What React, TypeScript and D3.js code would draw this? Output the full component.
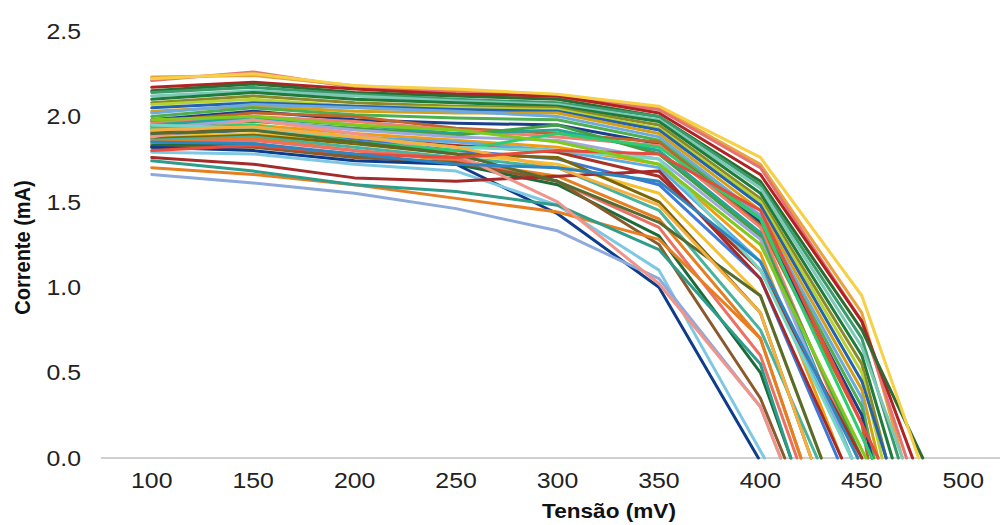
import React from "react";
import * as d3 from "d3";

// Voltage sample points (mV)
const voltages = [100, 150, 200, 250, 300, 350, 400, 450];

// Current (mA) per curve at each voltage; null = curve already ended
const currents: (number | null)[][] = [
  [2.23, 2.24, 2.18, 2.15, 2.12, 2.05, 1.72, 0.85],
  [2.21, 2.26, 2.17, 2.14, 2.11, 2.04, 1.7, 0.8],
  [2.17, 2.2, 2.16, 2.13, 2.12, 2.02, 1.66, 0.8],
  [2.15, 2.19, 2.14, 2.12, 2.1, 2.0, 1.62, 0.75],
  [2.14, 2.17, 2.13, 2.1, 2.08, 2.0, 1.6, 0.7],
  [2.12, 2.15, 2.12, 2.09, 2.07, 1.98, 1.58, 0.65],
  [2.1, 2.14, 2.1, 2.08, 2.06, 1.97, 1.55, 0.6],
  [2.08, 2.12, 2.08, 2.06, 2.05, 1.95, 1.52, 0.55],
  [2.07, 2.1, 2.06, 2.05, 2.04, 1.93, 1.5, 0.5],
  [2.05, 2.08, 2.06, 2.04, 2.03, 1.92, 1.48, 0.45],
  [2.03, 2.06, 2.03, 2.02, 2.02, 1.9, 1.45, 0.4],
  [2.02, 2.07, 2.05, 2.03, 2.0, 1.88, 1.42, 0.35],
  [2.0, 2.05, 2.01, 1.99, 1.98, 1.86, 1.4, 0.3],
  [1.98, 2.03, 1.98, 1.96, 1.95, 1.84, 1.38, 0.25],
  [1.97, 2.02, 2.0, 1.93, 1.9, 1.85, 1.36, 0.2],
  [1.96, 2.0, 1.97, 1.92, 1.88, 1.83, 1.35, null],
  [1.95, 1.99, 1.95, 1.9, 1.92, 1.8, 1.32, null],
  [1.94, 1.97, 1.93, 1.89, 1.95, 1.78, 1.3, null],
  [1.93, 1.98, 1.92, 1.88, 1.86, 1.75, 1.28, null],
  [1.92, 1.95, 1.9, 1.86, 1.82, 1.72, 1.2, null],
  [1.91, 1.94, 1.88, 1.85, 1.8, 1.7, 1.15, null],
  [1.9, 1.93, 1.87, 1.83, 1.79, 1.65, 1.1, null],
  [1.89, 1.92, 1.86, 1.8, 1.75, 1.6, 1.05, null],
  [1.88, 1.9, 1.85, 1.78, 1.72, 1.55, 0.95, null],
  [1.87, 1.89, 1.84, 1.78, 1.76, 1.5, 0.85, null],
  [1.86, 1.88, 1.82, 1.76, 1.7, 1.45, 0.75, null],
  [1.85, 1.87, 1.8, 1.74, 1.65, 1.4, 0.7, null],
  [1.84, 1.86, 1.8, 1.75, 1.62, 1.35, 0.6, null],
  [1.83, 1.84, 1.77, 1.72, 1.6, 1.3, 0.5, null],
  [1.82, 1.82, 1.76, 1.73, 1.62, 1.25, 0.35, null],
  [1.82, 1.8, 1.74, 1.72, 1.43, 1.0, null, null],
  [1.79, 1.78, 1.72, 1.68, 1.48, 1.1, null, null],
  [1.76, 1.72, 1.64, 1.62, 1.65, 1.68, 1.05, null],
  [1.7, 1.66, 1.6, 1.52, 1.44, 1.28, 0.7, null],
  [1.66, 1.61, 1.55, 1.46, 1.33, 1.05, 0.3, null],
  [1.74, 1.68, 1.6, 1.56, 1.48, 1.22, 0.55, null],
  [1.88, 1.98, 1.9, 1.78, 1.5, 1.02, 0.3, null],
  [1.93, 1.95, 1.85, 1.8, 1.9, 1.82, 1.4, null],
  [1.95, 1.93, 1.88, 1.82, 1.8, 1.75, 1.1, null],
  [1.9, 1.92, 1.85, 1.78, 1.62, 1.38, 0.95, null],
  [1.92, 1.94, 1.88, 1.82, 1.7, 1.48, 0.85, null],
  [1.8, 1.83, 1.78, 1.76, 1.8, 1.78, 1.45, null],
  [1.85, 1.84, 1.78, 1.72, 1.7, 1.62, 1.15, null],
  [1.98, 2.0, 1.95, 1.92, 1.85, 1.72, 1.25, null],
  [2.22, 2.25, 2.18, 2.16, 2.13, 2.06, 1.76, 0.95],
];

// Voltage (mV) where each curve reaches zero current
const vocs = [
  470, 472, 475, 480, 468, 470, 465, 462, 460, 462, 458, 455, 456, 455, 453,
  448, 445, 450, 445, 440, 445, 450, 438, 430, 425, 428, 420, 418, 415, 412,
  399, 402, 440, 420, 410, 415, 410, 455, 445, 430, 425, 458, 448, 452, 478,
];

const colors = [
  "#E8A33D", "#E57373", "#B22222", "#2E6B30", "#3A9B6B", "#7FC8B8", "#1E7B3A",
  "#8A8A2A", "#B5D334", "#2462B0", "#D4A017", "#6FA8DC", "#4CAF50", "#1B3F8B",
  "#C0652B", "#F08070", "#26A69A", "#43A047", "#9FA8DA", "#F39C12", "#5DADE2",
  "#A93226", "#3C78D8", "#F1C232", "#7D6608", "#45B39D", "#E67E22", "#EC7063",
  "#1D6B3A", "#8B5A2B", "#0D3C8C", "#7EC8E3", "#A52A2A", "#E67E22", "#8EA9DB",
  "#2E9C8A", "#F1948A", "#2ECC71", "#76D7C4", "#556B2F", "#F5B041", "#E74C3C",
  "#2E86C1", "#82C91E", "#F7D046",
];

const xTicks = [100, 150, 200, 250, 300, 350, 400, 450, 500];
const yTicks = [0, 0.5, 1.0, 1.5, 2.0, 2.5];

const W = 1000;
const H = 525;
const SX = 1.13; // horizontal stretch of the text in the original picture

export default function App() {
  const x = d3.scaleLinear().domain([75, 525]).range([101, 1014]);
  const y = d3.scaleLinear().domain([0, 2.5]).range([458, 31]);

  const line = d3
    .line<[number, number]>()
    .x((d) => x(d[0]))
    .y((d) => y(d[1]));

  const seriesPts = currents.map((row, i) => {
    const pts: [number, number][] = [];
    row.forEach((v, j) => {
      if (v !== null && voltages[j] < vocs[i]) pts.push([voltages[j], v]);
    });
    pts.push([vocs[i], 0]);
    return pts;
  });

  const font = "'Liberation Sans', Arial, sans-serif";

  return (
    <div style={{ position: "fixed", left: 0, top: 0, width: W, height: H, background: "#fff" }}>
      <svg width={W} height={H} style={{ display: "block" }} fontFamily={font}>
        <rect x={0} y={0} width={W} height={H} fill="#fff" />
        {/* baseline */}
        <line x1={x(75)} x2={W} y1={y(0)} y2={y(0)} stroke="#d0d0d0" strokeWidth={2} />
        {/* series */}
        {seriesPts.map((pts, i) => (
          <path
            key={i}
            d={line(pts) || ""}
            fill="none"
            stroke={colors[i % colors.length]}
            strokeWidth={3}
            strokeLinejoin="round"
            strokeLinecap="round"
          />
        ))}
        {/* y tick labels */}
        {yTicks.map((t) => (
          <text
            key={t}
            transform={`translate(81, ${y(t)}) scale(${SX},1)`}
            dy="0.35em"
            textAnchor="end"
            fontSize={22}
            fill="#222"
          >
            {d3.format(".1f")(t)}
          </text>
        ))}
        {/* x tick labels */}
        {xTicks.map((t) => (
          <text
            key={t}
            transform={`translate(${x(t)}, 488) scale(${SX},1)`}
            textAnchor="middle"
            fontSize={22}
            fill="#222"
          >
            {t}
          </text>
        ))}
        <text
          transform={`translate(609, 518) scale(${SX},1)`}
          textAnchor="middle"
          fontSize={20}
          fontWeight="bold"
          fill="#111"
        >
          Tensão (mV)
        </text>
        <text
          transform={`translate(30, ${(y(0) + y(2.5)) / 2 + 3}) scale(${SX},1) rotate(-90)`}
          textAnchor="middle"
          fontSize={20}
          fontWeight="bold"
          fill="#111"
        >
          Corrente (mA)
        </text>
      </svg>
    </div>
  );
}
